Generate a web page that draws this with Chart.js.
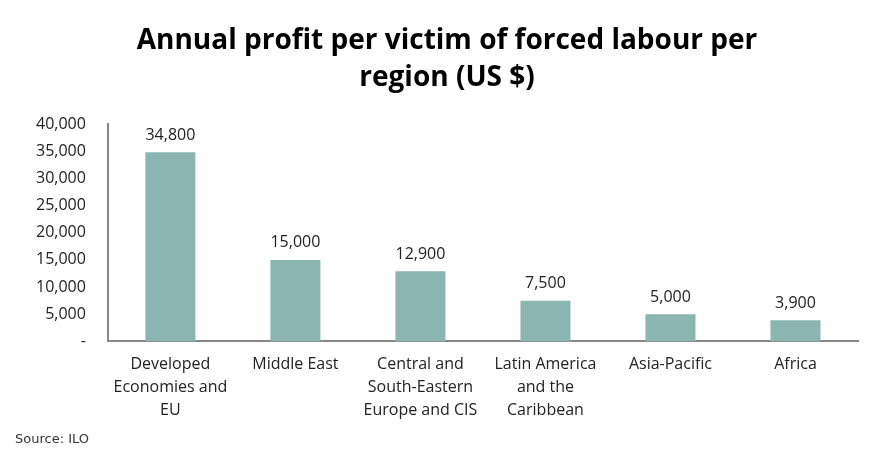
<!DOCTYPE html>
<html><head><meta charset="utf-8">
<script src="https://cdn.jsdelivr.net/npm/chart.js@4"></script>
<style>html,body{margin:0;padding:0;background:#fff}#wrap{width:884px;height:464px;position:relative}</style>
</head><body><div id="wrap"><canvas id="c" width="884" height="464"></canvas></div>
<script>
const categories = [["Developed","Economies and","EU"],["Middle East"],["Central and","South-Eastern","Europe and CIS"],["Latin America","and the","Caribbean"],["Asia-Pacific"],["Africa"]];
const profits = [34800, 15000, 12900, 7500, 5000, 3900];
const yTicks = [0, 5000, 10000, 15000, 20000, 25000, 30000, 35000, 40000];
const titleLines = ["Annual profit per victim of forced labour per","region (US $)"];
const sourceText = "Source: ILO";

const fmt = v => v === 0 ? "-" : v.toLocaleString("en-US");
const labelPlugin = {
  id: "barLabels",
  afterDatasetsDraw(chart) {
    const ctx = chart.ctx;
    const meta = chart.getDatasetMeta(0);
    ctx.save();
    ctx.font = "16px 'Open Sans', sans-serif";
    ctx.fillStyle = "#222";
    ctx.textAlign = "center";
    ctx.textBaseline = "bottom";
    meta.data.forEach((bar, i) => {
      ctx.fillText(fmt(profits[i]), bar.x, bar.y - 9);
    });
    ctx.restore();
  }
};
const textPlugin = {
  id: "texts",
  afterDraw(chart) {
    const ctx = chart.ctx;
    ctx.save();
    ctx.font = "bold 28px 'Open Sans', sans-serif";
    ctx.fillStyle = "#000";
    ctx.textAlign = "center";
    ctx.textBaseline = "middle";
    ctx.fillText(titleLines[0], 447, 41);
    ctx.fillText(titleLines[1], 447, 78);
    ctx.font = "13px 'DejaVu Sans', sans-serif";
    ctx.fillStyle = "#333";
    ctx.textAlign = "left";
    ctx.fillText(sourceText, 15, 440);
    ctx.restore();
  }
};

new Chart(document.getElementById("c"), {
  type: "bar",
  data: { labels: categories, datasets: [{ data: profits, backgroundColor: "#8ab5b0", barPercentage: 0.4, categoryPercentage: 1.0 }] },
  options: {
    responsive: false, animation: false,
    layout: { padding: { left: 14, right: 26, top: 124, bottom: 31 } },
    plugins: { legend: { display: false }, tooltip: { enabled: false }, title: { display: false } },
    scales: {
      x: {
        grid: { display: false, drawTicks: false },
        border: { display: true, color: "#888", width: 2 },
        ticks: { color: "#222", font: { family: "'Open Sans', sans-serif", size: 16, lineHeight: 1.45 }, padding: 11, maxRotation: 0, autoSkip: false }
      },
      y: {
        min: 0, max: 40000,
        afterBuildTicks(axis) { axis.ticks = yTicks.map(v => ({ value: v })); },
        grid: { display: false, drawTicks: false },
        border: { display: true, color: "#888", width: 2 },
        ticks: { color: "#222", font: { family: "'Open Sans', sans-serif", size: 16 }, padding: 22, callback: v => fmt(v) }
      }
    }
  },
  plugins: [labelPlugin, textPlugin]
});
</script></body></html>
